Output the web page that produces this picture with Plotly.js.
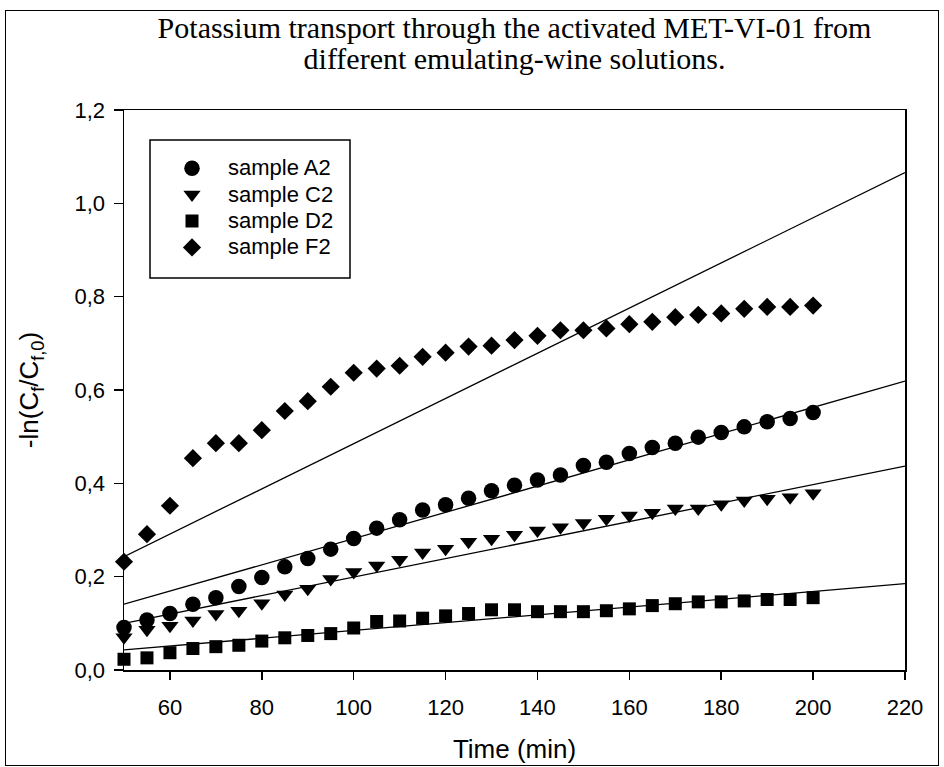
<!DOCTYPE html>
<html>
<head>
<meta charset="utf-8">
<script src="https://cdn.plot.ly/plotly-3.0.1.min.js"></script>
<style>
  html, body { margin: 0; padding: 0; background: #fff; }
  #chart { position: absolute; left: 0; top: 0; width: 944px; height: 767px; }
  #frame { position: absolute; left: 5px; top: 10px; width: 934px; height: 756px;
           border: 1.5px solid #000; box-sizing: border-box; pointer-events: none; }
</style>
</head>
<body>
<div id="chart"></div>
<div id="frame"></div>
<script>
// Time (min)
const time = [50, 55, 60, 65, 70, 75, 80, 85, 90, 95, 100, 105, 110, 115, 120, 125,
              130, 135, 140, 145, 150, 155, 160, 165, 170, 175, 180, 185, 190, 195, 200];

// -ln(Cf/Cf,0) per sample
const sampleA2 = [0.091, 0.107, 0.121, 0.141, 0.155, 0.179, 0.198, 0.221, 0.239, 0.259, 0.282,
                  0.304, 0.322, 0.343, 0.354, 0.368, 0.384, 0.396, 0.407, 0.418, 0.438, 0.445,
                  0.464, 0.477, 0.486, 0.499, 0.509, 0.521, 0.532, 0.539, 0.552];
const sampleC2 = [0.070, 0.086, 0.095, 0.106, 0.120, 0.127, 0.143, 0.162, 0.174, 0.195, 0.210,
                  0.224, 0.236, 0.252, 0.260, 0.275, 0.281, 0.290, 0.299, 0.306, 0.315, 0.324,
                  0.331, 0.337, 0.346, 0.346, 0.355, 0.363, 0.367, 0.370, 0.379];
const sampleD2 = [0.023, 0.026, 0.037, 0.046, 0.050, 0.053, 0.062, 0.069, 0.074, 0.078, 0.090,
                  0.104, 0.105, 0.111, 0.116, 0.121, 0.129, 0.129, 0.125, 0.125, 0.125, 0.127,
                  0.131, 0.138, 0.142, 0.146, 0.146, 0.148, 0.151, 0.151, 0.155];
const sampleF2 = [0.232, 0.291, 0.352, 0.454, 0.486, 0.486, 0.514, 0.555, 0.576, 0.607, 0.637,
                  0.646, 0.652, 0.671, 0.680, 0.693, 0.695, 0.707, 0.716, 0.728, 0.728, 0.732,
                  0.741, 0.746, 0.756, 0.761, 0.764, 0.774, 0.778, 0.778, 0.781];

// Fitted straight lines (end points)
const fitX  = [50, 220];
const fitA2 = [0.141, 0.619];
const fitC2 = [0.100, 0.437];
const fitD2 = [0.043, 0.185];
const fitF2 = [0.243, 1.066];

// Labels
const seriesNames = ['sample A2', 'sample C2', 'sample D2', 'sample F2'];
const titleLines = ['Potassium transport through the activated MET-VI-01 from',
                    'different emulating-wine solutions.'];
const xTitle = 'Time (min)';
const yTitle = '-ln(C<sub>f</sub>/C<sub>f,0</sub>)';

const big = (s, px) => '<span style="font-size:' + px + 'px">' + s + '</span>';

const fitLine = (y) => ({
  x: fitX, y: y, type: 'scatter', mode: 'lines', showlegend: false,
  line: { color: '#000', width: 1.3 }, hoverinfo: 'skip', cliponaxis: false
});
const pts = (y, name, symbol, size) => ({
  x: time, y: y, type: 'scatter', mode: 'markers', name: big(name, 22), cliponaxis: false,
  marker: { symbol: symbol, size: size, color: '#000', line: { width: 0 } }
});

const data = [
  fitLine(fitF2), fitLine(fitA2), fitLine(fitC2), fitLine(fitD2),
  pts(sampleA2, seriesNames[0], 'circle', 15.5),
  pts(sampleC2, seriesNames[1], 'triangle-down', 15),
  pts(sampleD2, seriesNames[2], 'square', 13),
  pts(sampleF2, seriesNames[3], 'diamond', 14)
];

const sans = 'Liberation Sans, Arial, sans-serif';
const tickFont = { family: sans, size: 22, color: '#000' };

const layout = {
  width: 944, height: 767,
  margin: { l: 124, r: 39, t: 110, b: 97 },
  paper_bgcolor: '#fff', plot_bgcolor: '#fff',
  separators: ',.',
  font: tickFont,
  title: {
    text: titleLines.map(s => big(s, 30)).join('<br>'),
    font: { family: 'Liberation Serif, Times New Roman, serif', size: 24, color: '#000' },
    x: 0.5, xref: 'paper', xanchor: 'center',
    y: 1 - 38 / 767, yref: 'container', yanchor: 'top'
  },
  xaxis: {
    range: [50, 220], tick0: 0, dtick: 20, ticks: 'outside', ticklen: 8, tickwidth: 1.5,
    tickcolor: '#000', showline: true, linecolor: '#000', linewidth: 1.5, mirror: true,
    showgrid: false, zeroline: false, tickfont: tickFont, ticklabelstandoff: 9,
    title: { text: xTitle, font: { family: sans, size: 26, color: '#000' }, standoff: 21 }
  },
  yaxis: {
    range: [0, 1.2], tick0: 0, dtick: 0.2, tickformat: '.1f', ticks: 'outside', ticklen: 9,
    tickwidth: 1.5, tickcolor: '#000', showline: true, linecolor: '#000', linewidth: 1.5,
    mirror: true, showgrid: false, zeroline: false, tickfont: tickFont, ticklabelstandoff: 4,
    title: { text: yTitle, font: { family: sans, size: 26, color: '#000' }, standoff: 28 }
  },
  showlegend: true,
  legend: {
    x: (156 - 124) / 781, y: (670 - 150) / 560, xanchor: 'left', yanchor: 'top',
    bgcolor: 'rgba(0,0,0,0)', borderwidth: 0, itemwidth: 62,
    font: { family: sans, size: 18, color: '#000' },
    tracegroupgap: 0
  },
  shapes: [{
    type: 'rect', xref: 'paper', yref: 'paper',
    x0: (150 - 124) / 781, x1: (350 - 124) / 781,
    y0: (670 - 278) / 560, y1: (670 - 140) / 560,
    line: { color: '#000', width: 1.5 }, fillcolor: 'rgba(0,0,0,0)', layer: 'above'
  }]
};

Plotly.newPlot('chart', data, layout, { displayModeBar: false, staticPlot: true });
</script>
</body>
</html>
